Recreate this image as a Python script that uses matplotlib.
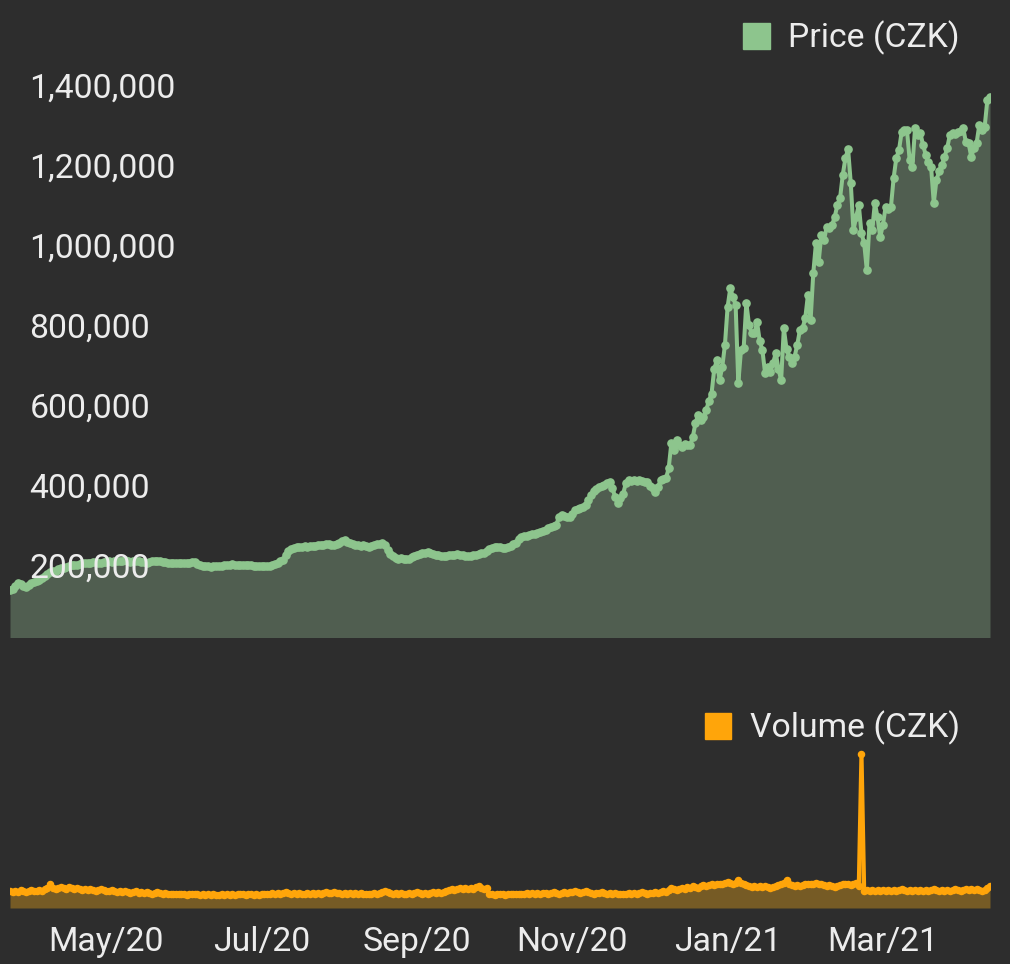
import matplotlib
matplotlib.use("Agg")
import matplotlib.pyplot as plt
from matplotlib.patches import Patch
from matplotlib.ticker import FuncFormatter
import pandas as pd

# daily series, 2020-04-14 .. 2021-04-15
START_DATE = "2020-04-14"

# price, thousands of CZK
PRICE_K = [
    137, 140, 148, 155, 152, 147, 145, 150, 156, 157,
    160, 163, 168, 172, 178, 182, 184, 186, 190, 192,
    193, 195, 197, 200, 201, 199, 202, 204, 205, 206,
    204, 207, 208, 206, 205, 207, 207, 209, 208, 210,
    211, 209, 210, 212, 210, 208, 209, 211, 210, 208,
    207, 206, 208, 209, 210, 211, 210, 208, 207, 206,
    205, 204, 205, 206, 204, 205, 205, 206, 207, 208,
    203, 199, 197, 198, 197, 196, 197, 197, 198, 197,
    199, 200, 201, 202, 201, 200, 201, 200, 199, 200,
    199, 198, 198, 197, 198, 197, 197, 198, 200, 203,
    206, 210, 213, 225, 235, 240, 242, 244, 245, 246,
    247, 246, 248, 247, 248, 250, 249, 251, 252, 253,
    251, 250, 252, 256, 259, 262, 258, 254, 252, 250,
    249, 248, 250, 247, 246, 248, 250, 252, 253, 255,
    250, 238, 228, 222, 218, 216, 217, 215, 214, 216,
    219, 222, 225, 227, 229, 231, 232, 229, 227, 225,
    224, 223, 223, 222, 224, 225, 226, 227, 226, 225,
    223, 222, 223, 225, 226, 228, 230, 231, 235, 240,
    243, 245, 246, 244, 243, 242, 245, 248, 252, 255,
    265, 270, 272, 273, 275, 277, 278, 280, 282, 285,
    288, 292, 294, 297, 300, 320, 325, 323, 321, 320,
    328, 337, 340, 342, 345, 350, 362, 375, 385, 390,
    395, 398, 400, 404, 407, 392, 370, 355, 368, 378,
    405, 412, 411, 413, 410, 412, 409, 408, 407, 398,
    392, 382, 395, 412, 415, 417, 442, 505, 487, 512,
    500, 495, 502, 500, 500, 520, 555, 575, 562, 570,
    587, 610, 628, 690, 712, 662, 695, 750, 845, 892,
    870, 850, 655, 737, 742, 855, 800, 780, 780, 807,
    760, 737, 680, 695, 682, 705, 730, 690, 662, 792,
    740, 720, 705, 720, 750, 787, 792, 817, 875, 812,
    930, 1005, 957, 1025, 1012, 1045, 1042, 1050, 1070, 1100,
    1117, 1175, 1217, 1240, 1155, 1037, 1070, 1100, 1030, 1005,
    937, 1055, 1037, 1105, 1070, 1020, 1050, 1095, 1090, 1095,
    1167, 1217, 1237, 1282, 1287, 1287, 1212, 1195, 1292, 1275,
    1280, 1250, 1225, 1207, 1195, 1105, 1162, 1185, 1200, 1220,
    1242, 1275, 1280, 1278, 1282, 1285, 1292, 1257, 1255, 1220,
    1242, 1255, 1300, 1287, 1295, 1362, 1370,
]

# traded volume, millions of CZK
VOLUME_M = [
    19, 18, 19, 18, 20, 19, 18, 19, 20, 19,
    19, 20, 19, 21, 22, 26, 22, 21, 22, 23,
    22, 21, 23, 22, 21, 22, 21, 20, 21, 20,
    21, 20, 19, 20, 21, 20, 19, 19, 20, 19,
    18, 19, 18, 19, 18, 17, 18, 19, 17, 18,
    17, 18, 17, 16, 17, 18, 17, 16, 17, 16,
    16, 15, 16, 15, 16, 15, 14, 15, 16, 15,
    15, 14, 15, 14, 15, 14, 15, 14, 14, 15,
    14, 15, 14, 15, 14, 15, 16, 15, 14, 15,
    15, 14, 15, 14, 15, 16, 15, 16, 17, 16,
    17, 16, 17, 18, 17, 16, 17, 16, 17, 16,
    16, 17, 16, 17, 16, 17, 16, 17, 18, 17,
    17, 18, 17, 17, 16, 17, 16, 17, 16, 17,
    16, 17, 16, 16, 15, 16, 17, 16, 17, 18,
    19, 18, 17, 16, 17, 16, 17, 16, 16, 17,
    16, 17, 18, 17, 16, 17, 16, 17, 18, 17,
    18, 17, 18, 19, 20, 21, 20, 21, 22, 21,
    22, 21, 22, 21, 23, 24, 22, 21, 22, 15,
    15, 14, 15, 16, 15, 14, 15, 16, 15, 16,
    16, 15, 16, 17, 16, 17, 16, 17, 16, 17,
    17, 16, 17, 18, 17, 16, 17, 18, 17, 18,
    18, 19, 18, 17, 18, 19, 18, 17, 16, 17,
    17, 18, 17, 16, 17, 16, 17, 16, 15, 16,
    16, 17, 16, 17, 16, 17, 18, 17, 16, 17,
    17, 18, 17, 18, 19, 18, 20, 22, 21, 20,
    21, 22, 21, 23, 22, 24, 23, 22, 24, 25,
    24, 25, 26, 25, 27, 26, 27, 28, 29, 28,
    27, 28, 31, 28, 26, 25, 24, 23, 24, 23,
    24, 23, 24, 23, 22, 23, 24, 25, 26, 28,
    31, 26, 25, 24, 25, 24, 25, 26, 27, 26,
    27, 28, 27, 26, 25, 24, 25, 24, 23, 24,
    25, 26, 27, 26, 25, 27, 28, 24, 170, 19,
    20, 19, 20, 19, 20, 19, 20, 19, 20, 19,
    20, 19, 20, 21, 20, 19, 20, 19, 20, 19,
    20, 19, 20, 19, 20, 21, 20, 19, 20, 19,
    20, 19, 20, 21, 20, 19, 20, 21, 20, 21,
    20, 21, 20, 19, 20, 22, 24,
]

PRICE_TICKS = [200000, 400000, 600000, 800000, 1000000, 1200000, 1400000]

BG = "#2d2d2d"
TXT = "#ececec"
GREEN = "#8dc58d"
GREEN_FILL = "#505e50"
ORANGE = "#ffa50a"
ORANGE_FILL = "#765b25"
FS = 24.3

plt.rcParams["font.family"] = ["Roboto", "DejaVu Sans"]

dates = pd.date_range(START_DATE, periods=len(PRICE_K), freq="D")
price = [v * 1000 for v in PRICE_K]
volume = VOLUME_M

W, H = 1010, 964
fig = plt.figure(figsize=(W / 100, H / 100), dpi=100, facecolor=BG)

ax_p = fig.add_axes([10 / W, (H - 637) / H, 980 / W, 552 / H], facecolor=BG)
ax_v = fig.add_axes([10 / W, (H - 908) / H, 980 / W, 163 / H], facecolor=BG, sharex=ax_p)

# price panel
ax_p.fill_between(dates, price, 0, color=GREEN_FILL, linewidth=0, zorder=1)
ax_p.plot(dates, price, color=GREEN, linewidth=2.9, marker="o", markersize=5.2, zorder=2)
ax_p.set_ylim(20000, 1400000)
ax_p.set_yticks(PRICE_TICKS)
ax_p.yaxis.set_major_formatter(FuncFormatter(lambda v, _: f"{int(v):,}"))
ax_p.tick_params(axis="y", length=0, pad=-14, labelsize=FS, labelcolor=TXT)
for lab in ax_p.get_yticklabels():
    lab.set_horizontalalignment("left")
ax_p.tick_params(axis="x", length=0, labelbottom=False)
ax_p.set_axisbelow(False)

# volume panel
ax_v.fill_between(dates, volume, 0, color=ORANGE_FILL, linewidth=0, zorder=1)
ax_v.plot(dates, volume, color=ORANGE, linewidth=3.0, marker="o", markersize=4.4, zorder=2)
ax_v.set_ylim(0, 180)
ax_v.set_yticks([])
tick_dates = dates[36::58]
ax_v.set_xticks(tick_dates)
ax_v.set_xticklabels([d.strftime("%b/%y") for d in tick_dates])
ax_v.tick_params(axis="x", length=0, pad=13, labelsize=FS, labelcolor=TXT)
ax_v.set_xlim(dates[0], dates[-1])

for ax in (ax_p, ax_v):
    for s in ax.spines.values():
        s.set_visible(False)

leg_kw = dict(loc="center right", bbox_transform=fig.transFigure, frameon=False,
              fontsize=FS, labelcolor=TXT, handlelength=0.78, handleheight=0.78,
              handletextpad=0.55, borderpad=0, borderaxespad=0)
ax_p.legend(handles=[Patch(facecolor=GREEN, edgecolor=GREEN, label="Price (CZK)")],
            bbox_to_anchor=(960 / W, 1 - 38 / H), **leg_kw)
ax_v.legend(handles=[Patch(facecolor=ORANGE, edgecolor=ORANGE, label="Volume (CZK)")],
            bbox_to_anchor=(960 / W, 1 - 728 / H), **leg_kw)

fig.savefig("out.png", dpi=100, facecolor=BG)
